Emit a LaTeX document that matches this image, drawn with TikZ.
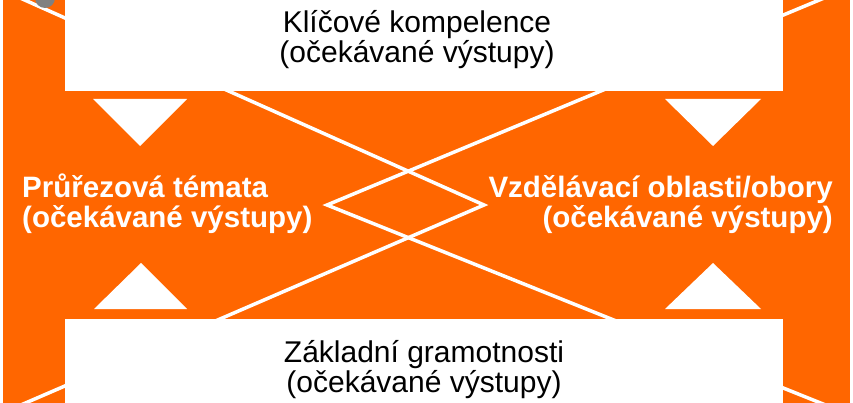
\documentclass[tikz,border=0pt]{standalone}
\usepackage{fontspec}
\setmainfont{Liberation Sans}
\definecolor{rvporange}{HTML}{FF6600}
\tikzset{
    boxtext/.style = {inner sep = 0pt, align = center, text = black,
                      font = \fontsize{30}{30}\selectfont},
    sidetext/.style = {inner sep = 0pt, text = white,
                       font = \bfseries\fontsize{29.5}{30}\selectfont},
    crossline/.style = {draw = white, line width = 3.5pt, line join = miter}
}
\begin{document}
\begin{tikzpicture}[x = 1pt, y = -1pt]
                        \useasboundingbox (0, 0) rectangle (853, 403);
                        \clip (0, 0) rectangle (853, 403);
                        \fill [rvporange] (3, 0) rectangle (850, 403);
                        % the two chevrons
                        \coordinate (rtip) at (484, 205);
                        \coordinate (ltip) at (327, 205);
                        \draw [crossline] (0, -11) -- (rtip) -- (0, 414);
                        \draw [crossline] (853, -14) -- (ltip) -- (853, 416);
                        % boxes
                        \fill [white] (65, -5) rectangle (783, 91);
                        \fill [white] (65, 319) rectangle (783, 410);
                        \fill [gray] (45, -2) circle (10);
                        % triangles
                        \fill [white] (93, 99) -- (187, 99) -- (140, 146) -- cycle;
                        \fill [white] (665, 99) -- (761, 99) -- (713, 146) -- cycle;
                        \fill [white] (94, 309) -- (187, 309) -- (141, 263) -- cycle;
                        \fill [white] (665, 309) -- (761, 309) -- (713, 263) -- cycle;
                        % texts (anchored at the baseline of the second line)
                        \node [boxtext, anchor = base] (klic) at (417, 63)
                            {Klíčové kompelence\\(očekávané výstupy)};
                        \node [boxtext, anchor = base] (gram) at (424, 392)
                            {Základní gramotnosti\\(očekávané výstupy)};
                        \node [sidetext, anchor = base west, align = left] (prurez) at (22, 228)
                            {Průřezová témata\\(očekávané výstupy)};
                        \node [sidetext, anchor = base east, align = right] (oblasti) at (833, 228)
                            {Vzdělávací oblasti/obory\\(očekávané výstupy)};
                    \end{tikzpicture}
\end{document}
